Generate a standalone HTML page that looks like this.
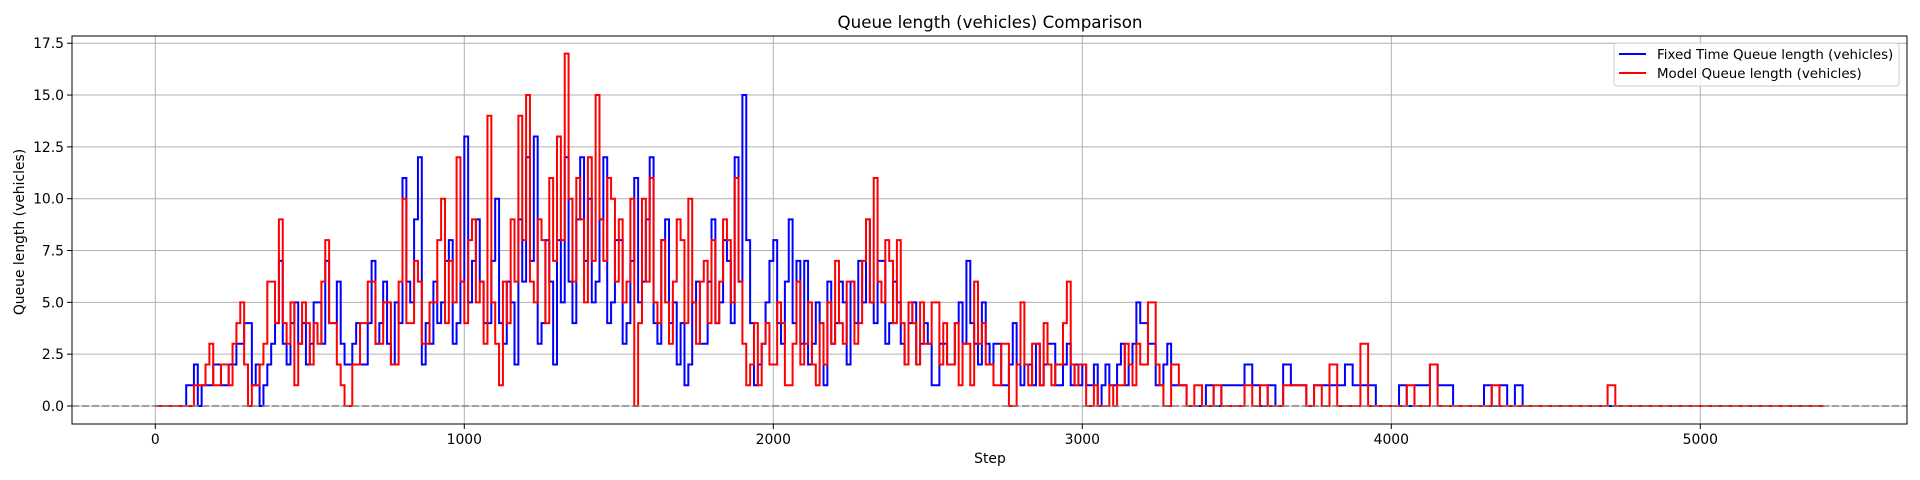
<!DOCTYPE html>
<html><head><meta charset="utf-8"><style>
html,body{margin:0;padding:0;background:#fff}
svg{display:block;font-family:"DejaVu Sans","Liberation Sans",sans-serif}
</style></head><body>
<svg id="chart" width="1920" height="480" viewBox="0 0 1920 480">
<rect width="1920" height="480" fill="#fff"/>
<text x="990" y="28" font-size="16.7" text-anchor="middle">Queue length (vehicles) Comparison</text>
<text x="990" y="463" font-size="13.9" text-anchor="middle">Step</text>
<text transform="translate(24,232) rotate(-90)" font-size="13.9" text-anchor="middle">Queue length (vehicles)</text>
<g id="grid"></g><g id="series"></g><g id="axes"></g>
<g>
<rect x="1614" y="43" width="285" height="43" rx="3" fill="#fff" fill-opacity="0.8" stroke="#ccc"/>
<line x1="1619" y1="54" x2="1646" y2="54" stroke="#0000ff" stroke-width="2"/>
<text x="1657" y="59" font-size="13.4">Fixed Time Queue length (vehicles)</text>
<line x1="1619" y1="73" x2="1646" y2="73" stroke="#ff0000" stroke-width="2"/>
<text x="1657" y="78" font-size="13.4">Model Queue length (vehicles)</text>
</g>
</svg>
<script>
const stepInterval = 12.5;
const xTicks = [0,1000,2000,3000,4000,5000];
const yTicks = [0,2.5,5,7.5,10,12.5,15,17.5];
const yTickLabels = ["0.0","2.5","5.0","7.5","10.0","12.5","15.0","17.5"];
const fixedValues = [
0,0,0,0,0,0,0,0, 1,1,2,0,1,1,1,2, 2,1,1,2,2,3,3,4, 4,1,2,0,1,2,3,4, 7,3,2,4,5,3,4,2,
3,5,5,3,7,4,4,6, 3,2,2,3,4,2,2,4, 7,3,4,6,3,2,5,4, 11,6,5,9,12,2,4,3, 6,4,5,7,8,3,4,6,
13,5,7,9,6,4,4,7, 10,4,3,6,5,2,9,6, 12,7,13,3,4,8,6,2, 8,5,12,6,4,9,12,7, 10,5,6,9,12,4,5,8,
8,3,4,7,11,5,6,9, 12,4,3,8,9,4,5,2, 4,1,2,5,6,3,3,6, 9,4,5,8,7,4,12,6, 15,8,4,1,2,3,5,7,
8,4,3,6,9,4,7,3, 7,2,3,5,4,1,6,3, 4,6,5,2,6,4,7,5, 9,5,4,7,7,3,4,6, 5,3,2,4,5,2,3,4,
3,1,1,3,3,2,2,4, 5,3,7,4,3,2,5,3, 2,3,3,1,1,2,4,2, 1,2,2,1,3,1,2,3, 3,1,1,2,3,1,2,1,
2,1,1,2,0,1,2,1, 1,2,3,1,2,3,5,4, 4,3,3,1,1,2,3,1, 1,1,1,0,0,0,0,0,
1,1,0,0,1,1,1,1, 1,1,2,2,1,1,0,0, 1,1,0,0,2,2,1,1, 1,1,0,0,1,1,1,1, 1,1,1,1,2,2,1,1,
1,1,1,1,0,0,0,0, 0,0,1,1,0,0,1,1, 1,1,2,2,1,1,1,1, 0,0,0,0,0,0,0,0, 1,1,0,0,1,1,0,0,
1,1,0,0,0,0,0,0,
0,0,0,0,0,0,0,0,0,0, 0,0,0,0,0,0,0,0,0,0, 0,0,0,0,0,0,0,0,0,0, 0,0,0,0,0,0,0,0,0,0,
0,0,0,0,0,0,0,0,0,0, 0,0,0,0,0,0,0,0,0,0, 0,0,0,0,0,0,0,0,0,0, 0,0,0];
const modelValues = [
0,0,0,0,0,0,0,0, 0,0,1,1,1,2,3,1, 1,2,2,1,3,4,5,2, 0,1,1,2,3,6,6,4, 9,4,3,5,1,3,5,4,
2,4,3,6,8,4,4,2, 1,0,0,2,2,4,4,6, 6,3,3,5,5,2,2,6, 10,4,4,7,6,3,3,5, 5,8,10,4,7,5,12,6,
4,8,9,5,6,3,14,5, 3,1,6,4,9,6,14,8, 15,6,5,9,8,4,11,7, 13,8,17,10,6,11,9,5, 12,7,15,9,7,11,10,6,
9,5,6,10,0,4,10,6, 11,5,4,8,5,3,6,9, 8,4,10,5,3,6,7,4, 8,4,6,9,8,5,11,6, 3,1,2,4,1,3,4,2,
2,5,4,1,1,3,6,2, 3,5,2,1,4,2,5,3, 7,4,3,6,6,3,4,7, 9,5,11,6,5,8,7,4, 8,4,2,5,4,2,5,3,
3,5,5,2,4,2,2,4, 1,3,3,1,6,3,4,2, 2,1,1,3,3,0,0,2, 5,2,1,3,3,1,4,2, 1,2,2,4,6,2,1,2,
2,0,0,1,0,0,0,1, 0,1,1,3,2,1,3,2, 2,5,5,2,1,0,0,2, 2,1,1,0,0,1,1,0,
0,0,1,1,0,0,0,0, 0,0,1,1,0,0,1,1, 0,0,0,0,1,1,1,1, 1,1,0,0,1,1,0,0, 2,2,0,0,0,0,0,0,
3,3,0,0,0,0,0,0, 0,0,0,0,1,1,0,0, 0,0,2,2,0,0,0,0, 0,0,0,0,0,0,0,0, 0,0,1,1,0,0,0,0,
0,0,0,0,0,0,0,0,
0,0,0,0,0,0,0,0,0,0, 0,0,0,0,0,0,1,1,0,0, 0,0,0,0,0,0,0,0,0,0, 0,0,0,0,0,0,0,0,0,0,
0,0,0,0,0,0,0,0,0,0, 0,0,0,0,0,0,0,0,0,0, 0,0,0,0,0,0,0,0,0,0, 0,0,0];

const L=72, R=1907, T=36, B=424;
const xs = v => 155.3 + v*0.309;
const ys = v => 406 - v*20.73;
const NS="http://www.w3.org/2000/svg";
function mk(tag, attrs, parent){const e=document.createElementNS(NS,tag);for(const k in attrs)e.setAttribute(k,attrs[k]);parent.appendChild(e);return e;}
const grid=document.getElementById('grid'), axes=document.getElementById('axes'), series=document.getElementById('series');
xTicks.forEach(t=>{
  const g=mk('line',{x1:xs(t),x2:xs(t),y1:T,y2:B,stroke:'#b0b0b0','stroke-width':1},grid);
  
  
  mk('line',{x1:xs(t),x2:xs(t),y1:B,y2:B+5,stroke:'#000','stroke-width':1},axes);
  const lb=mk('text',{x:xs(t),y:B+20,'font-size':13.9,'text-anchor':'middle'},axes);
  lb.textContent=t;
  
  
});
yTicks.forEach((t,i)=>{
  const g=mk('line',{x1:L,x2:R,y1:ys(t),y2:ys(t),stroke:'#b0b0b0','stroke-width':1},grid);
  
  
  mk('line',{x1:L-5,x2:L,y1:ys(t),y2:ys(t),stroke:'#000','stroke-width':1},axes);
  const lb=mk('text',{x:L-8,y:ys(t)+5,'font-size':13.9,'text-anchor':'end'},axes);
  lb.textContent=yTickLabels[i];
  
  
});
const frame=mk('rect',{x:L,y:T,width:R-L,height:B-T,fill:'none',stroke:'#000','stroke-width':1},axes);


function stepPath(vals){
  let d='M'+xs(0)+','+ys(vals[0]);
  for(let i=1;i<vals.length;i++){d+=' H'+xs(i*stepInterval)+' V'+ys(vals[i]);}
  return d;
}
const pf=mk('path',{d:stepPath(fixedValues),fill:'none',stroke:'#0000ff','stroke-width':2},series);


const pm=mk('path',{d:stepPath(modelValues),fill:'none',stroke:'#ff0000','stroke-width':2},series);


const zl=mk('line',{x1:L,x2:R,y1:ys(0),y2:ys(0),stroke:'#808080','stroke-width':1.5,'stroke-dasharray':'7,3'},series);


</script>
</body></html>
